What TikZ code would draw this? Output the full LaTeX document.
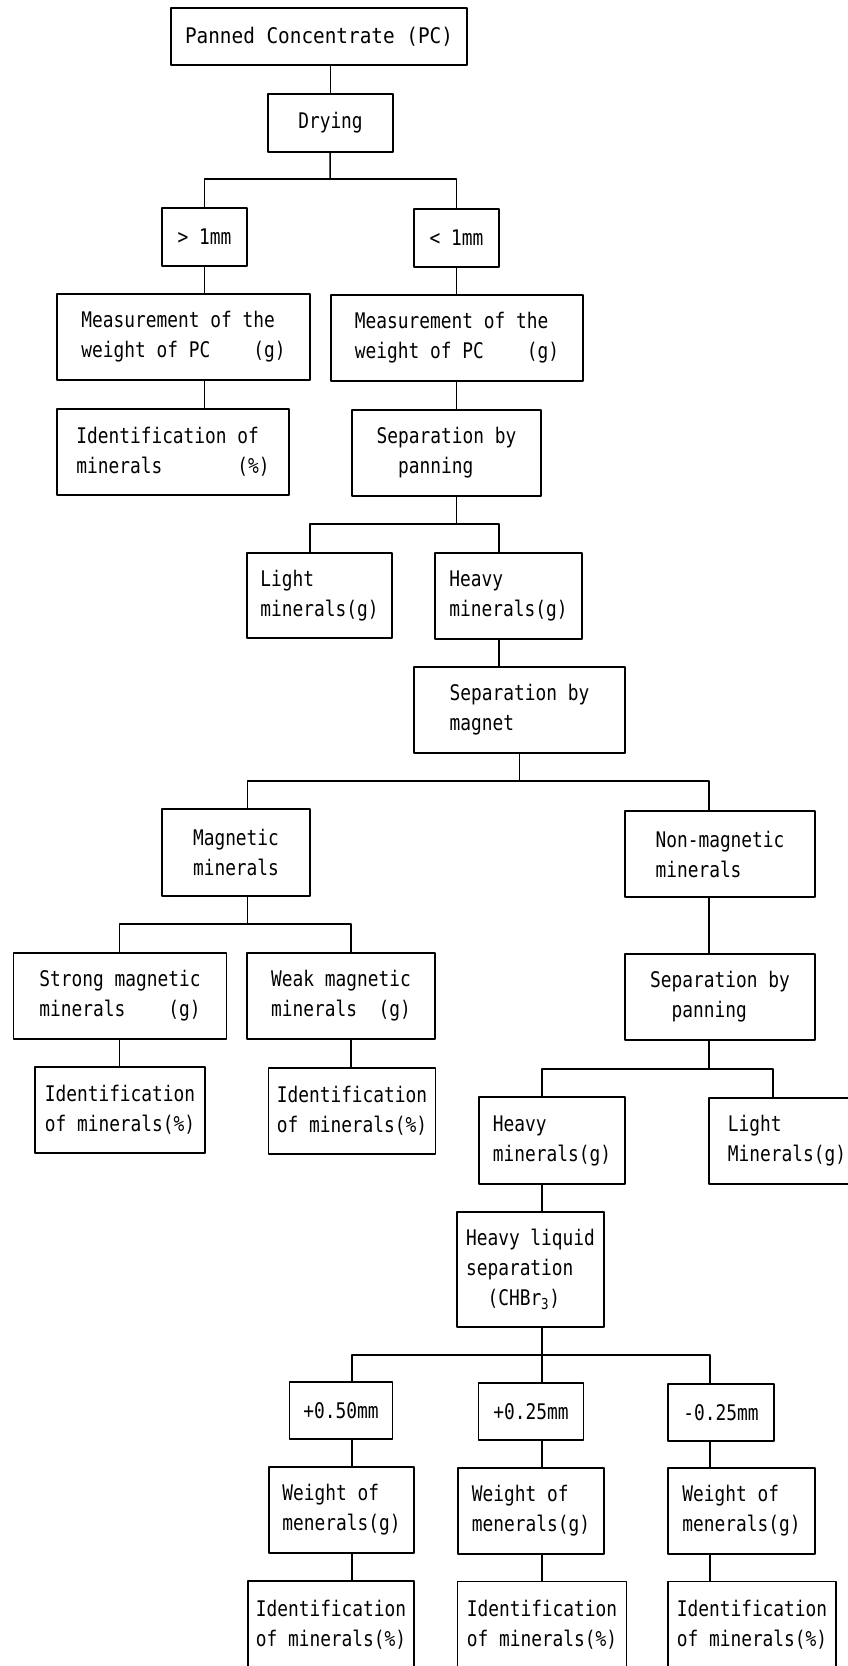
\documentclass[tikz,border=0pt]{standalone}
\usepackage{fontspec}
\setmainfont{DejaVu Sans Mono}[FakeStretch=0.83]
\newfontfamily\widefont{DejaVu Sans Mono}[FakeStretch=0.9]
\tikzset{
	box/.style 2 args={draw, align=left, inner sep=2pt,
		minimum width=#1, minimum height=#2},
}
\begin{document}
\begin{tikzpicture}[x=1pt, y=-1pt, line width=1.5pt, line join=round,
	font=\fontsize{21.5pt}{30pt}\selectfont]
	\useasboundingbox (0,0) rectangle (847,1666);
	% top part
	\node[box={296pt}{57pt}, font=\widefont\fontsize{21.5pt}{30pt}\selectfont] (pc) at (319,36.5) {Panned Concentrate (PC)};
	\node[box={125pt}{58pt}] (drying) at (330.5,123) {Drying};
	\node[box={85pt}{58pt}] (gt1) at (204.5,237) {> 1mm};
	\node[box={85pt}{58pt}] (lt1) at (456.5,238) {< 1mm};
	\node[box={253pt}{86pt}] (meas1) at (183.5,337) {Measurement of the\\weight of PC~~~~(g)};
	\node[box={252pt}{86pt}] (meas2) at (457,338) {Measurement of the\\weight of PC~~~~(g)};
	\node[box={232pt}{86pt}] (id1) at (173,452) {Identification of\\minerals~~~~~~~(\%)};
	\node[box={189pt}{86pt}] (sep1) at (446.5,453) {Separation by\\~~panning};
	\node[box={145pt}{85pt}] (light1) at (319.5,595.5) {Light\\minerals(g)};
	\node[box={147pt}{86pt}] (heavy1) at (508.5,596) {Heavy\\minerals(g)};
	\node[box={211pt}{86pt}] (magnet) at (519.5,710) {Separation by\\magnet~~~~~~~};
	% magnetic side
	\node[box={148pt}{87pt}] (magnetic) at (236,852.5) {Magnetic\\minerals};
	\node[box={213pt}{86pt}] (strong) at (120,996) {Strong magnetic\\minerals~~~~(g)};
	\node[box={188pt}{86pt}] (weak) at (341,996) {Weak magnetic\\minerals~~(g)};
	\node[box={170pt}{86pt}] (idS) at (120,1110) {Identification\\of minerals(\%)};
	\node[box={167pt}{86pt}] (idW) at (352,1111) {Identification\\of minerals(\%)};
	% non-magnetic side
	\node[box={190pt}{86pt}] (nonmag) at (720,854) {Non-magnetic\\minerals~~~~};
	\node[box={190pt}{86pt}] (sep2) at (720,997) {Separation by\\~~panning};
	\node[box={146pt}{87pt}] (heavy2) at (552,1140.5) {Heavy\\minerals(g)};
	\node[box={156pt}{86pt}] (light2) at (787,1141) {Light\\Minerals(g)};
	\node[box={147pt}{115pt}] (hliq) at (530.5,1269.5) {Heavy liquid\\separation\\~~(CHBr\textsubscript{3})};
	% size fractions
	\node[box={103pt}{57pt}] (s50) at (341,1410.5) {+0.50mm};
	\node[box={105pt}{57pt}] (s25) at (531,1411.5) {+0.25mm};
	\node[box={106pt}{57pt}] (sm25) at (721,1412.5) {-0.25mm};
	\node[box={145pt}{86pt}] (w1) at (341.5,1510) {Weight of\\menerals(g)};
	\node[box={146pt}{86pt}] (w2) at (531,1511) {Weight of\\menerals(g)};
	\node[box={147pt}{86pt}] (w3) at (741.5,1511) {Weight of\\menerals(g)};
	\node[box={166pt}{87pt}] (i1) at (331,1624.5) {Identification\\of minerals(\%)};
	\node[box={169pt}{87pt}] (i2) at (542,1625) {Identification\\of minerals(\%)};
	\node[box={168pt}{87pt}] (i3) at (752,1625) {Identification\\of minerals(\%)};
	% fork points
	\coordinate (kDry) at (330,179);
	\coordinate (kLt) at (310,524);
	\coordinate (kHv) at (499,524);
	\coordinate (kMg) at (247.5,781);
	\coordinate (kNm) at (709,781);
	\coordinate (kSt) at (119.5,924);
	\coordinate (kWk) at (351,924);
	\coordinate (kHv2) at (542,1069);
	\coordinate (kLt2) at (773,1069);
	\coordinate (kA) at (352,1355);
	\coordinate (kB) at (542,1355);
	\coordinate (kC) at (710,1355);
	% connectors
	\draw (pc.south -| drying) -- (drying);
	\draw (drying) -- (kDry);
	\draw (gt1) |- (kDry) -| (lt1);
	\draw (gt1) -- (gt1 |- meas1.north);
	\draw (meas1.south -| gt1) -- (id1.north -| gt1);
	\draw (lt1) -- (lt1 |- meas2.north);
	\draw (meas2.south -| lt1) -- (sep1.north -| lt1);
	\draw (sep1.south -| lt1) -- (lt1 |- kLt);
	\draw (kLt |- light1.north) -- (kLt) -- (kHv) -- (kHv |- heavy1.north);
	\draw (heavy1.south -| kHv) -- (magnet.north -| kHv);
	\draw (magnet) -- (magnet |- kMg);
	\draw (kMg |- magnetic.north) -- (kMg) -- (kNm) -- (kNm |- nonmag.north);
	\draw (magnetic.south -| kMg) -- (kMg |- kSt);
	\draw (kSt |- strong.north) -- (kSt) -- (kWk) -- (kWk |- weak.north);
	\draw (strong.south -| kSt) -- (idS.north -| kSt);
	\draw (weak.south -| kWk) -- (idW.north -| kWk);
	\draw (nonmag.south -| kNm) -- (sep2.north -| kNm);
	\draw (sep2.south -| kNm) -- (kNm |- kHv2);
	\draw (kHv2 |- heavy2.north) -- (kHv2) -- (kLt2) -- (kLt2 |- light2.north);
	\draw (heavy2.south -| kHv2) -- (hliq.north -| kHv2);
	\draw (hliq.south -| kB) -- (kB);
	\draw (kA |- s50.north) -- (kA) -- (kC) -- (kC |- sm25.north);
	\draw (kB) -- (kB |- s25.north);
	\foreach \s/\w/\i/\k in {s50/w1/i1/kA, s25/w2/i2/kB, sm25/w3/i3/kC}{
		\draw (\s.south -| \k) -- (\w.north -| \k);
		\draw (\w.south -| \k) -- (\i.north -| \k);
	}
\end{tikzpicture}
\end{document}
